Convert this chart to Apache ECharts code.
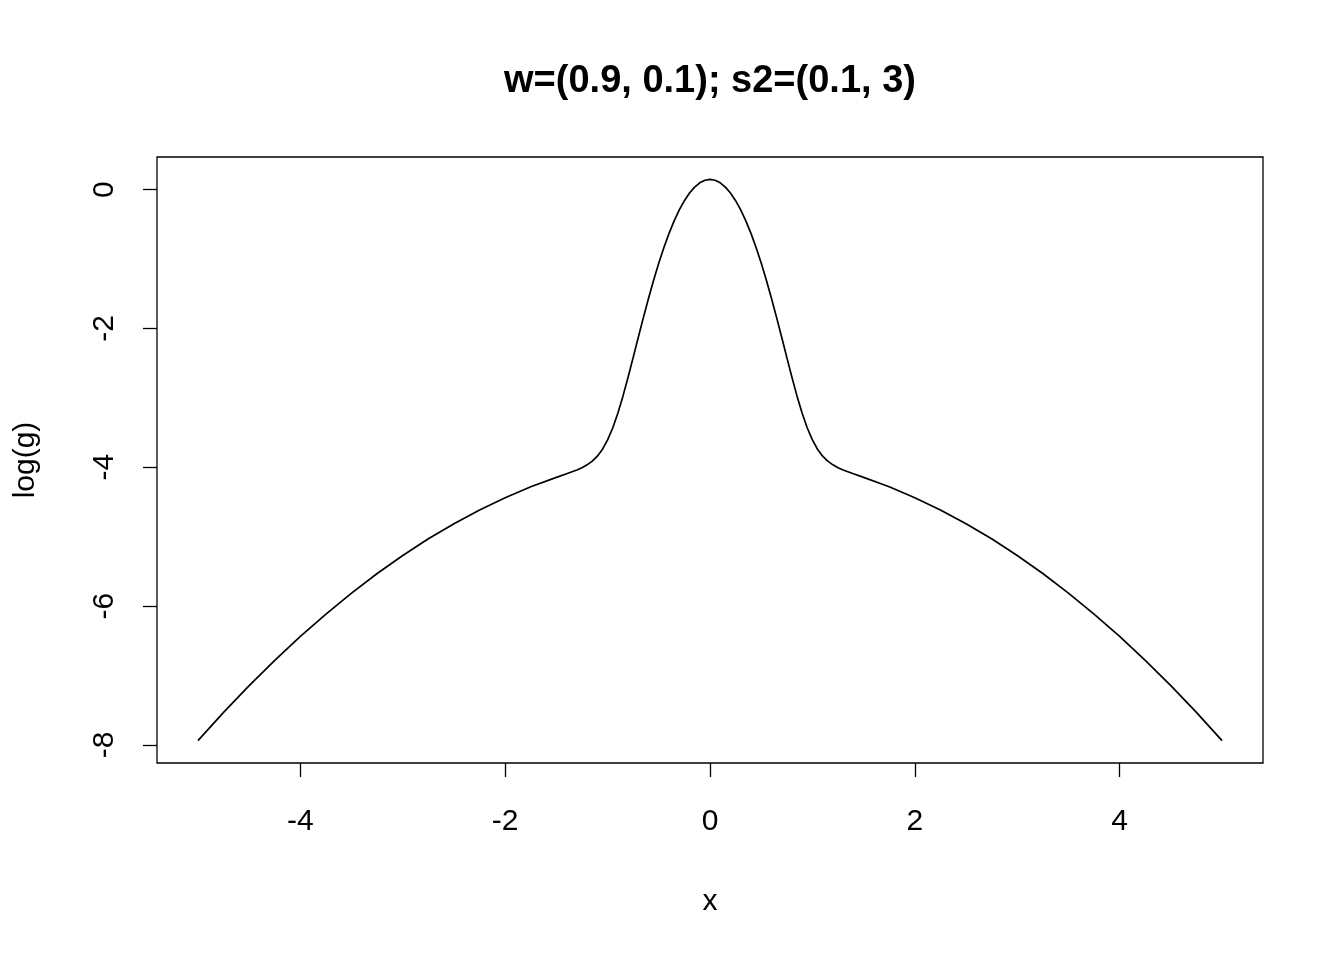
<!DOCTYPE html>
<html>
<head>
<meta charset="utf-8">
<script src="https://cdn.jsdelivr.net/npm/echarts@6/dist/echarts.min.js"></script>
<style>html,body{margin:0;padding:0;background:#fff;}#c{width:1344px;height:960px;}</style>
</head>
<body>
<div id="c"></div>
<script>
const titleText = "w=(0.9, 0.1); s2=(0.1, 3)";
const xTicks = [-4, -2, 0, 2, 4];
const yTicks = [-8, -6, -4, -2, 0];
const xVals = [-5, -4.75, -4.5, -4.25, -4, -3.75, -3.5, -3.25, -3, -2.75, -2.5, -2.25, -2, -1.75, -1.5,
  -1.4, -1.3, -1.25, -1.2, -1.15, -1.1, -1.05, -1, -0.95, -0.9, -0.85, -0.8, -0.75, -0.7, -0.65, -0.6,
  -0.55, -0.5, -0.45, -0.4, -0.35, -0.3, -0.25, -0.2, -0.15, -0.1, -0.05, 0,
  0.05, 0.1, 0.15, 0.2, 0.25, 0.3, 0.35, 0.4, 0.45, 0.5, 0.55, 0.6, 0.65, 0.7, 0.75, 0.8, 0.85,
  0.9, 0.95, 1, 1.05, 1.1, 1.15, 1.2, 1.25, 1.3, 1.4,
  1.5, 1.75, 2, 2.25, 2.5, 2.75, 3, 3.25, 3.5, 3.75, 4, 4.25, 4.5, 4.75, 5];
const yVals = [-7.938, -7.531, -7.146, -6.781, -6.438, -6.115, -5.813, -5.531, -5.271, -5.031, -4.813, -4.615, -4.438, -4.281, -4.145,
  -4.094, -4.039, -4.006, -3.965, -3.912, -3.840, -3.740, -3.606, -3.434, -3.221, -2.975, -2.703, -2.417, -2.127, -1.840, -1.564,
  -1.302, -1.057, -0.833, -0.630, -0.450, -0.292, -0.159, -0.049, 0.037, 0.098, 0.135, 0.147,
  0.135, 0.098, 0.037, -0.049, -0.159, -0.292, -0.450, -0.630, -0.833, -1.057, -1.302, -1.564, -1.840, -2.127, -2.417, -2.703, -2.975,
  -3.221, -3.434, -3.606, -3.740, -3.840, -3.912, -3.965, -4.006, -4.039, -4.094,
  -4.145, -4.281, -4.438, -4.615, -4.813, -5.031, -5.271, -5.531, -5.813, -6.115, -6.438, -6.781, -7.146, -7.531, -7.938];

const font = "'Liberation Sans', Arial, sans-serif";
const chart = echarts.init(document.getElementById('c'), null, {renderer: 'canvas'});
chart.setOption({
  animation: false,
  backgroundColor: '#fff',
  title: {
    text: titleText, left: 705, textAlign: 'center', top: 58,
    textStyle: {fontFamily: font, fontSize: 38, fontWeight: 'bold', color: '#000'}
  },
  grid: {left: 157, top: 157, width: 1106, height: 606, show: true, borderColor: '#000', borderWidth: 1.3, backgroundColor: 'transparent'},
  xAxis: {
    type: 'value', min: -5.4, max: 5.4,
    name: 'x', nameLocation: 'middle', nameGap: 124,
    nameTextStyle: {fontFamily: font, fontSize: 30, color: '#000'},
    axisLine: {show: false, onZero: false},
    axisTick: {show: true, length: 14, lineStyle: {color: '#000', width: 1.3}, customValues: xTicks},
    axisLabel: {fontFamily: font, fontSize: 30, color: '#000', margin: 44, customValues: xTicks},
    splitLine: {show: false}
  },
  yAxis: {
    type: 'value', min: -8.261, max: 0.4705,
    name: 'log(g)', nameLocation: 'middle', nameGap: 116,
    nameTextStyle: {fontFamily: font, fontSize: 30, color: '#000'},
    axisLine: {show: false, onZero: false},
    axisTick: {show: true, length: 14, lineStyle: {color: '#000', width: 1.3}, customValues: yTicks},
    axisLabel: {fontFamily: font, fontSize: 30, color: '#000', margin: 37, rotate: 90, customValues: yTicks},
    splitLine: {show: false}
  },
  series: [{
    type: 'line', showSymbol: false, smooth: false,
    data: xVals.map((x, i) => [x, yVals[i]]),
    lineStyle: {color: '#000', width: 1.7}
  }]
});
</script>
</body>
</html>
